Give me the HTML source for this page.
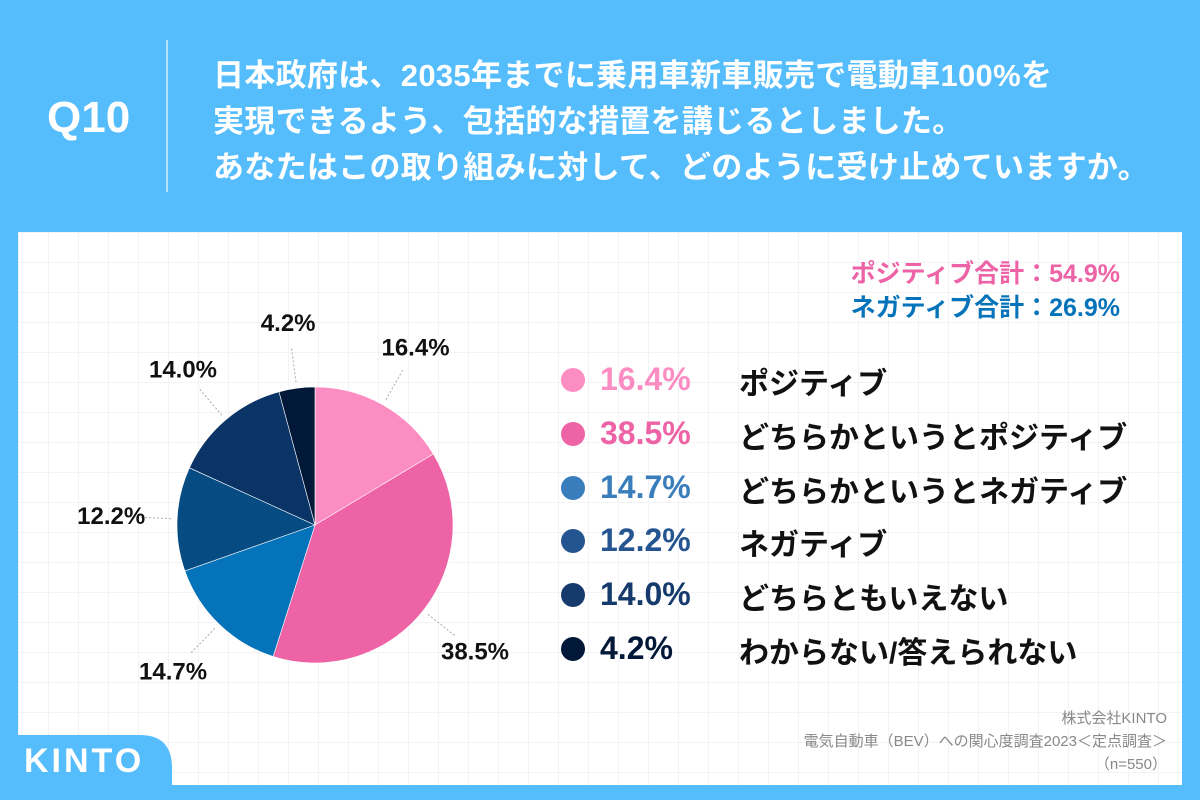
<!DOCTYPE html>
<html><head><meta charset="utf-8"><style>
body{margin:0;width:1200px;height:800px;background:#56bdfc;position:relative;overflow:hidden;font-family:"Liberation Sans","Noto Sans CJK JP",sans-serif}
.abs{position:absolute;white-space:nowrap}
#panel{position:absolute;left:18px;top:232px;width:1164px;height:553px;background:#fff;
background-image:linear-gradient(#f1f3f6 1px,transparent 1px),linear-gradient(90deg,#f1f3f6 1px,transparent 1px);background-size:30px 30px}
.title{left:213px;font-size:31px;font-weight:bold;color:#fff;letter-spacing:0.3px}
.lg{font-size:30px;font-weight:bold}
</style></head><body>
<div class="abs" style="left:47px;top:93px;font-size:44px;font-weight:bold;color:#fff">Q10</div>
<div class="abs" style="left:166px;top:40px;width:2px;height:152px;background:#b5e2fe"></div>
<div class="abs title" style="top:50px">日本政府は、2035年までに乗用車新車販売で電動車100%を</div>
<div class="abs title" style="top:96px">実現できるよう、包括的な措置を講じるとしました。</div>
<div class="abs title" style="top:142px">あなたはこの取り組みに対して、どのように受け止めていますか。</div>
<div id="panel"></div>
<svg class="abs" style="left:0;top:0" width="1200" height="800">
<g id="pie"></g><g id="labels"></g>
<path d="M0 735 L140 735 Q172 735 172 768 L172 800 L0 800 Z" fill="#56bdfc"/>
<text x="24" y="772" font-size="34" font-weight="bold" fill="#fff" letter-spacing="3" font-family="Liberation Sans, sans-serif">KINTO</text>
</svg>
<div class="abs" style="right:80px;top:254px;font-size:25px;font-weight:bold;color:#ee62a6">ポジティブ合計：54.9%</div>
<div class="abs" style="right:80px;top:288px;font-size:25px;font-weight:bold;color:#0573b9">ネガティブ合計：26.9%</div>
<div id="legend"></div>
<div class="abs" style="right:33px;top:707px;font-size:15px;color:#888">株式会社KINTO</div>
<div class="abs" style="right:33px;top:730px;font-size:15px;color:#888">電気自動車（BEV）への関心度調査2023＜定点調査＞</div>
<div class="abs" style="right:33px;top:753px;font-size:15px;color:#888">（n=550）</div>
<script>
const categories=["ポジティブ","どちらかというとポジティブ","どちらかというとネガティブ","ネガティブ","どちらともいえない","わからない/答えられない"];
const values=[16.4,38.5,14.7,12.2,14.0,4.2];
const valueLabels=["16.4%","38.5%","14.7%","12.2%","14.0%","4.2%"];
const sliceColors=["#fc8dc3","#ee62a6","#0573b9","#064c82","#0a3466","#021838"];
const legendColors=["#fc8dc3","#ee62a6","#3a7dbd","#255590","#163a6c","#021838"];
const NS="http://www.w3.org/2000/svg";
const cx=315,cy=525,r=138;
const total=values.reduce((a,b)=>a+b,0);
const pie=document.getElementById('pie'),lab=document.getElementById('labels');
function pt(a,rad){return [cx+rad*Math.sin(a),cy-rad*Math.cos(a)];}
let acc=0;
values.forEach((v,i)=>{
  const a0=acc/total*2*Math.PI;acc+=v;const a1=acc/total*2*Math.PI;
  const p0=pt(a0,r),p1=pt(a1,r);
  const p=document.createElementNS(NS,'path');
  p.setAttribute('d',`M${cx} ${cy} L${p0[0]} ${p0[1]} A${r} ${r} 0 ${a1-a0>Math.PI?1:0} 1 ${p1[0]} ${p1[1]} Z`);
  p.setAttribute('fill',sliceColors[i]);p.setAttribute('stroke','#fff');p.setAttribute('stroke-width','0.6');
  
  
  pie.appendChild(p);
  const am=(a0+a1)/2;const l0=pt(am,r+6),l1=pt(am,r+40),lt=pt(am,r+66);
  const ln=document.createElementNS(NS,'line');
  ln.setAttribute('x1',l0[0]);ln.setAttribute('y1',l0[1]);ln.setAttribute('x2',l1[0]);ln.setAttribute('y2',l1[1]);
  ln.setAttribute('stroke','#aaa');ln.setAttribute('stroke-dasharray','2 2');
  
  
  lab.appendChild(ln);
  const t=document.createElementNS(NS,'text');
  t.setAttribute('x',lt[0]);t.setAttribute('y',lt[1]+8);t.setAttribute('text-anchor','middle');
  t.setAttribute('font-size','24');t.setAttribute('font-weight','bold');t.setAttribute('fill','#111');
  t.textContent=valueLabels[i];
  
  
  lab.appendChild(t);
});
const lg=document.getElementById('legend');
categories.forEach((c,i)=>{
  const y=380+i*53.8;
  const d=document.createElement('div');d.className='abs';
  d.style.cssText=`left:561px;top:${y-12}px;width:24px;height:24px;border-radius:50%;background:${legendColors[i]}`;
  
  
  lg.appendChild(d);
  const p=document.createElement('div');p.className='abs lg';
  p.style.cssText=`left:600px;top:${y-19}px;color:${legendColors[i]};font-size:32px`;p.textContent=valueLabels[i];
  
  
  lg.appendChild(p);
  const l=document.createElement('div');l.className='abs lg';
  l.style.cssText=`left:739px;top:${y-21}px;color:#111`;l.textContent=c;
  
  
  lg.appendChild(l);
});
</script>
</body></html>
